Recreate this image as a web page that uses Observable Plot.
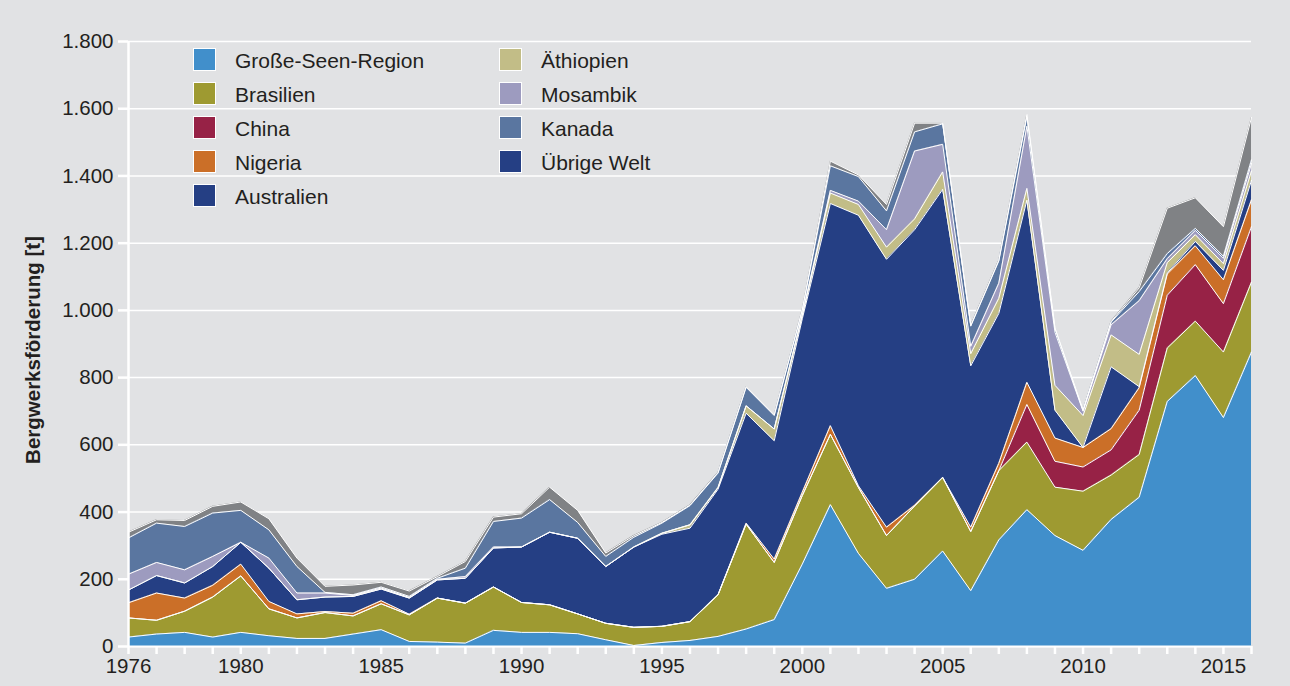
<!DOCTYPE html>
<html><head><meta charset="utf-8">
<script src="https://cdn.jsdelivr.net/npm/d3@7"></script>
<script src="https://cdn.jsdelivr.net/npm/@observablehq/plot@0.6"></script>
<style>
html,body{margin:0;padding:0;background:#e1e2e4;}
#wrap{position:relative;width:1290px;height:686px;font-family:"Liberation Sans",Arial,sans-serif;color:#231f20;}
#ylabel{position:absolute;left:33px;top:350px;transform:translate(-50%,-50%) rotate(-90deg);white-space:nowrap;font-weight:bold;font-size:20.5px;}
.leg{position:absolute;display:flex;align-items:center;font-size:21px;white-space:nowrap;}
.leg .sw{width:21px;height:21px;border:1.5px solid #fff;box-sizing:content-box;margin-right:19px;}
</style></head>
<body><div id="wrap"></div>
<script>
const years = [1976,1977,1978,1979,1980,1981,1982,1983,1984,1985,1986,1987,1988,1989,1990,1991,1992,1993,1994,1995,1996,1997,1998,1999,2000,2001,2002,2003,2004,2005,2006,2007,2008,2009,2010,2011,2012,2013,2014,2015,2016];
const labelYears = [1976,1980,1985,1990,1995,2000,2005,2010,2015];
const yTicks = [0,200,400,600,800,1000,1200,1400,1600,1800];

const seriesNames = ["Große-Seen-Region","Brasilien","China","Nigeria","Australien","Äthiopien","Mosambik","Kanada","Übrige Welt"];
const seriesColors = ["#418fcb","#9e9a31","#972246","#cb6f28","#253f84","#c2bd87","#9d9bbf","#5a76a0","#808285"];
const legendColors = ["#418fcb","#9e9a31","#972246","#cb6f28","#253f84","#c2bd87","#9d9bbf","#5a76a0","#253f84"];

const grosseSeen = [28,37,42,28,42,32,24,24,37,50,15,13,10,48,42,42,38,20,3,12,18,30,52,80,245,422,277,173,200,284,166,317,407,330,286,378,444,729,806,681,876];
const brasilien  = [57,41,63,119,168,80,61,77,54,77,79,131,119,129,89,82,59,49,54,48,56,124,312,170,204,209,196,157,218,219,176,206,201,144,176,132,127,159,162,195,208];
const china      = [0,0,0,0,0,0,0,0,0,0,0,0,0,0,0,0,0,0,0,0,0,0,0,0,0,0,0,0,0,0,0,0,112,77,72,75,132,157,168,144,165];
const nigeria    = [45,81,39,35,35,22,12,3,8,9,2,0,0,0,0,0,0,0,0,0,0,0,3,10,10,26,5,25,2,0,13,22,66,69,58,63,67,63,56,71,80];
const australien = [38,52,45,56,65,99,42,43,50,35,48,54,74,116,165,216,225,169,239,274,278,314,327,352,516,661,805,797,820,857,480,446,542,83,0,184,3,3,13,28,58];
const aethiopien = [0,0,0,0,0,0,0,0,0,0,0,0,0,0,0,0,0,0,0,3,10,5,22,35,10,31,32,36,32,52,36,45,35,74,95,95,96,31,20,20,28];
const mosambik   = [47,39,39,30,0,30,20,12,3,3,2,2,5,3,0,0,0,0,0,0,0,0,0,0,3,8,10,52,202,82,22,45,185,158,13,30,160,12,13,16,22];
const kanada     = [108,117,129,129,95,84,79,2,2,3,3,3,25,76,86,97,47,30,29,30,57,43,55,40,12,73,73,56,57,61,60,66,28,11,2,8,27,15,6,6,11];
const uebrige    = [17,10,18,20,25,33,25,18,29,14,16,5,20,13,13,37,36,10,5,2,2,2,2,2,3,14,5,19,26,2,2,2,7,2,1,2,11,135,91,88,126];

const seriesValues = [grosseSeen,brasilien,china,nigeria,australien,aethiopien,mosambik,kanada,uebrige];
const data = seriesNames.flatMap((s, i) => years.map((yr, j) => ({year: yr, value: seriesValues[i][j], series: s})));

const de = d3.formatLocale({decimal: ",", thousands: ".", grouping: [3], currency: ["", " €"]});
const fmt = de.format(",");

const chart = Plot.plot({
  width: 1290, height: 686,
  marginLeft: 128, marginRight: 39, marginTop: 41, marginBottom: 40,
  style: {background: "transparent", fontFamily: "'Liberation Sans', Arial, sans-serif", fontSize: "20px", color: "#231f20"},
  x: {domain: [1976, 2016]},
  y: {domain: [0, 1800]},
  color: {domain: seriesNames, range: seriesColors},
  marks: [
    Plot.gridY(yTicks, {stroke: "white", strokeOpacity: 1, strokeWidth: 1.5}),
    Plot.areaY(data, {x: "year", y: "value", z: "series", fill: "series", order: seriesNames}),
    Plot.lineY(data, Plot.stackY2({x: "year", y: "value", z: "series", order: seriesNames, stroke: "white", strokeWidth: 1})),
    Plot.ruleX([1976], {stroke: "white", strokeWidth: 2.5}),
    Plot.ruleY([0], {stroke: "white", strokeWidth: 2}),
    Plot.axisY({ticks: yTicks, tickSize: 10, tickPadding: 5, tickFormat: fmt, stroke: "white", strokeWidth: 2.5, strokeOpacity: 1, fill: "#231f20", fontSize: 20.5, label: null}),
    Plot.axisX({ticks: years, tickSize: 8, tickFormat: () => "", stroke: "white", strokeWidth: 2.5, strokeOpacity: 1, label: null}),
    Plot.axisX({ticks: labelYears, tickSize: 0, tickPadding: 12, tickFormat: d => String(d), fill: "#231f20", fontSize: 20.5, label: null})
  ]
});

const wrap = document.getElementById("wrap");
wrap.appendChild(chart);

const yl = document.createElement("div");
yl.id = "ylabel";
yl.textContent = "Bergwerksförderung [t]";
wrap.appendChild(yl);

const legendCols = [[0,1,2,3,4],[5,6,7,8]];
const colLeft = [193, 499];
legendCols.forEach((col, c) => {
  col.forEach((idx, r) => {
    const d = document.createElement("div");
    d.className = "leg";
    d.style.left = colLeft[c] + "px";
    d.style.top = (47 + r * 34) + "px";
    d.style.height = "24px";
    const sw = document.createElement("div");
    sw.className = "sw";
    sw.style.background = legendColors[idx];
    const t = document.createElement("span");
    t.textContent = seriesNames[idx];
    t.style.position = "relative";
    t.style.top = "2px";
    d.appendChild(sw); d.appendChild(t);
    wrap.appendChild(d);
  });
});
</script>
</body></html>
